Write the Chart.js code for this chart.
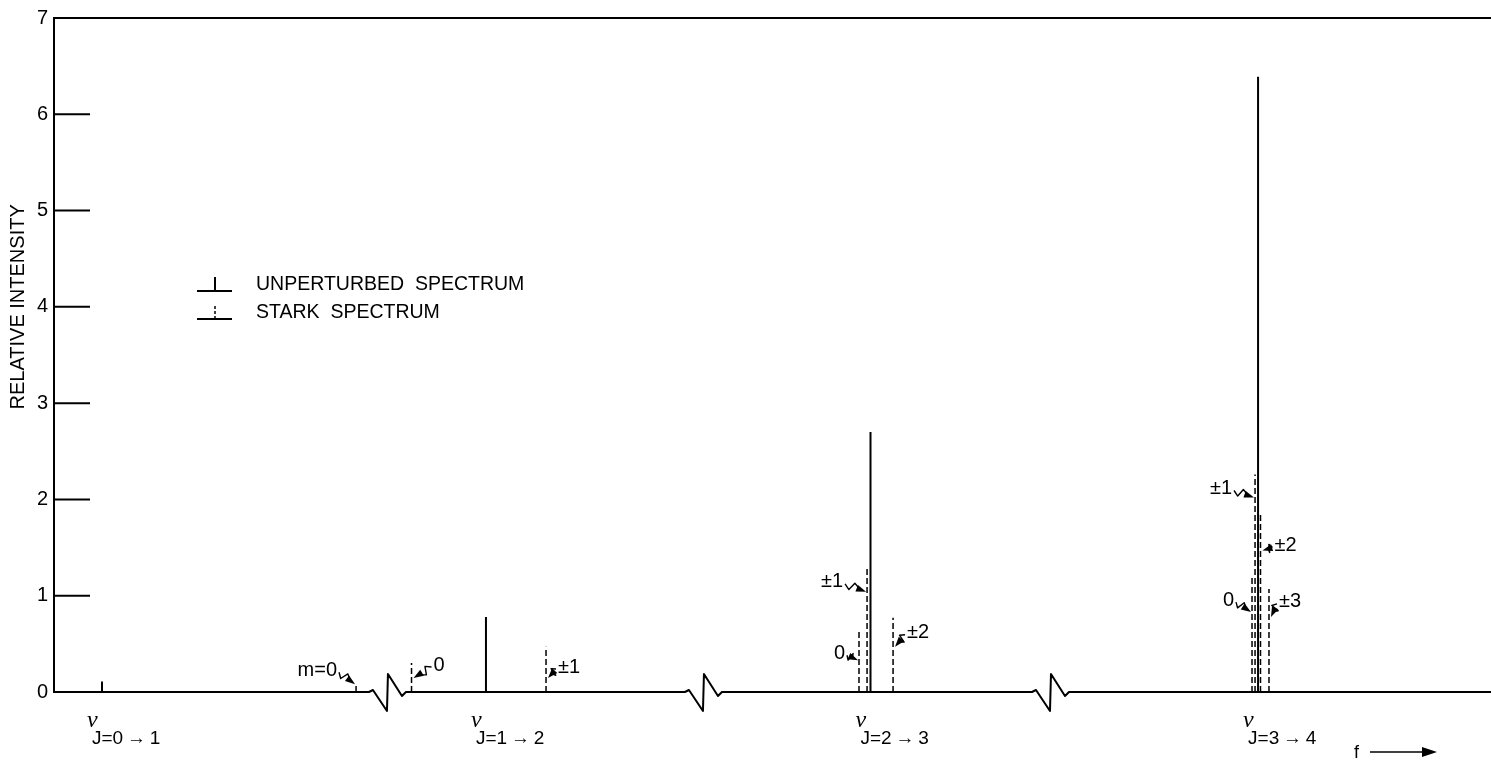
<!DOCTYPE html>
<html>
<head>
<meta charset="utf-8">
<script src="https://cdn.jsdelivr.net/npm/chart.js@4/dist/chart.umd.min.js"></script>
<style>
  html, body { margin: 0; padding: 0; background: #fff; }
  #wrap { width: 1491px; height: 762px; position: relative; }
</style>
</head>
<body>
<div id="wrap"><canvas id="spectrumChart"></canvas></div>
<script>
// frequency axis is arbitrary (0 - 100), intensity is relative
const unperturbedFreq = [3.34, 30.06, 56.82, 83.79];
const unperturbedIntensity = [0.11, 0.78, 2.70, 6.39];

const starkFreq = [21.02, 24.88, 34.24, 56.02, 56.58, 58.39, 83.37, 83.58, 83.96, 84.55];
const starkIntensity = [0.09, 0.30, 0.47, 0.65, 1.30, 0.77, 1.20, 2.26, 1.86, 1.07];
const starkLabels = ['m=0', '0', '±1', '0', '±1', '±2', '0', '±1', '±2', '±3'];
// where each little arrow hits its stark line (intensity)
const starkArrowAt = [0.08, 0.145, 0.145, 0.33, 1.04, 0.47, 0.83, 2.02, 1.47, 0.78];

const transitionLabels = ['J=0\u2009→\u20091', 'J=1\u2009→\u20092', 'J=2\u2009→\u20093', 'J=3\u2009→\u20094'];
const breakFreq = [23.17, 45.16, 69.31];
const yTicks = [0, 1, 2, 3, 4, 5, 6, 7];

// label placement relative to arrow tip (px): side, dx, dy
const notePlace = [
    ['L', -18, -14], ['R', 20, -13], ['R', 10, -11],
    ['L', -13, -7], ['L', -23, -10], ['R', 12, -14],
    ['L', -17, -12], ['L', -22, -9], ['R', 12, -5], ['R', 8, -15]
];

const FONT = '"Liberation Sans", Arial, Helvetica, sans-serif';

function sticks(freqs, vals) {
    const pts = [];
    freqs.forEach((f, i) => {
        pts.push({ x: f, y: 0 }, { x: f, y: vals[i] }, { x: f, y: null });
    });
    return pts;
}

function arrow(ctx, sx, sy, tx, ty) {
    const dx = tx - sx, dy = ty - sy;
    const len = Math.hypot(dx, dy);
    const ux = dx / len, uy = dy / len, px = -uy, py = ux;
    ctx.beginPath();
    ctx.moveTo(sx, sy);
    ctx.lineTo(sx + dx * 0.25 + px * 4, sy + dy * 0.25 + py * 4);
    ctx.lineTo(sx + dx * 0.4 - px * 4, sy + dy * 0.4 - py * 4);
    ctx.lineTo(tx - ux * 6, ty - uy * 6);
    ctx.stroke();
    ctx.beginPath();
    ctx.moveTo(tx, ty);
    ctx.lineTo(tx - ux * 10 + px * 3.5, ty - uy * 10 + py * 3.5);
    ctx.lineTo(tx - ux * 10 - px * 3.5, ty - uy * 10 - py * 3.5);
    ctx.closePath();
    ctx.fill();
}

const decor = {
    id: 'decor',
    afterDraw(chart) {
        const { ctx, chartArea: area, scales: { x, y } } = chart;
        const y0 = y.getPixelForValue(0);
        ctx.save();
        ctx.strokeStyle = '#000';
        ctx.fillStyle = '#000';
        ctx.lineWidth = 2;
        ctx.lineJoin = 'round';

        // baseline with the scale breaks
        const zig = [[-18, 0], [-14, -2], [0, 19], [1, -18], [15, 4], [19, 0]];
        ctx.beginPath();
        ctx.moveTo(area.left, y0);
        breakFreq.forEach(b => {
            const bx = x.getPixelForValue(b);
            zig.forEach(([ox, oy]) => ctx.lineTo(bx + ox, y0 + oy));
        });
        ctx.lineTo(area.right, y0);
        ctx.stroke();

        // inward tick marks
        yTicks.slice(1, -1).forEach(v => {
            const py = y.getPixelForValue(v);
            ctx.beginPath();
            ctx.moveTo(area.left, py);
            ctx.lineTo(area.left + 36, py);
            ctx.stroke();
        });

        // y title
        ctx.save();
        ctx.translate(18, y.getPixelForValue(4));
        ctx.rotate(-Math.PI / 2);
        ctx.font = '20px ' + FONT;
        ctx.textAlign = 'center';
        ctx.textBaseline = 'middle';
        ctx.fillText('RELATIVE INTENSITY', 0, 0);
        ctx.restore();

        // legend
        ctx.font = '19.5px ' + FONT;
        ctx.textAlign = 'left';
        ctx.textBaseline = 'middle';
        ctx.beginPath();
        ctx.moveTo(197, 291); ctx.lineTo(232, 291);
        ctx.moveTo(215, 277); ctx.lineTo(215, 291);
        ctx.stroke();
        ctx.fillText('UNPERTURBED  SPECTRUM', 256, 285);
        ctx.beginPath();
        ctx.moveTo(197, 319); ctx.lineTo(232, 319);
        ctx.stroke();
        ctx.lineWidth = 1.5;
        ctx.setLineDash([3, 2]);
        ctx.beginPath();
        ctx.moveTo(215, 306); ctx.lineTo(215, 319);
        ctx.stroke();
        ctx.setLineDash([]);
        ctx.fillText('STARK  SPECTRUM', 256, 313);

        // stark component labels with arrows
        ctx.font = '20px ' + FONT;
        ctx.lineWidth = 1.4;
        starkFreq.forEach((f, i) => {
            const [side, dx, dy] = notePlace[i];
            const lx = x.getPixelForValue(f);
            const tx = side === 'L' ? lx - 1 : lx + 2;
            const ty = y.getPixelForValue(starkArrowAt[i]);
            const textX = tx + dx, textY = ty + dy;
            ctx.textAlign = side === 'L' ? 'right' : 'left';
            ctx.fillText(starkLabels[i], textX, textY);
            const sx = side === 'L' ? textX + 2 : textX - 2;
            arrow(ctx, sx, textY + 2, tx, ty);
        });

        // transition labels under the axis
        ctx.textAlign = 'left';
        ctx.textBaseline = 'alphabetic';
        unperturbedFreq.forEach((f, i) => {
            const lx = x.getPixelForValue(f);
            ctx.font = 'italic 24px "Liberation Serif", "DejaVu Serif", serif';
            ctx.fillText('ν', lx - 15, 727);
            ctx.font = '19px ' + FONT;
            ctx.fillText(transitionLabels[i], lx - 10, 744);
        });

        // frequency direction
        ctx.font = '18px ' + FONT;
        ctx.fillText('f', 1354, 758);
        ctx.lineWidth = 1.5;
        ctx.beginPath();
        ctx.moveTo(1370, 752); ctx.lineTo(1428, 752);
        ctx.stroke();
        ctx.beginPath();
        ctx.moveTo(1437, 752); ctx.lineTo(1422, 747); ctx.lineTo(1422, 757);
        ctx.closePath();
        ctx.fill();
        ctx.restore();
    }
};

new Chart(document.getElementById('spectrumChart'), {
    type: 'scatter',
    data: {
        datasets: [
            {
                label: 'STARK SPECTRUM',
                data: sticks(starkFreq, starkIntensity),
                showLine: true,
                spanGaps: false,
                borderColor: '#000',
                borderWidth: 1.5,
                borderDash: [6, 3],
                pointRadius: 0
            },
            {
                label: 'UNPERTURBED SPECTRUM',
                data: sticks(unperturbedFreq, unperturbedIntensity),
                showLine: true,
                spanGaps: false,
                borderColor: '#000',
                borderWidth: 2,
                pointRadius: 0
            }
        ]
    },
    options: {
        responsive: true,
        maintainAspectRatio: false,
        animation: false,
        layout: { padding: { top: 17, bottom: 70, left: 0, right: 0 } },
        plugins: {
            legend: { display: false },
            tooltip: { enabled: false }
        },
        scales: {
            x: {
                type: 'linear',
                min: 0,
                max: 100,
                display: false
            },
            y: {
                min: 0,
                max: 7,
                afterFit(scale) { scale.width = 54; },
                afterBuildTicks(scale) { scale.ticks = yTicks.map(v => ({ value: v })); },
                ticks: {
                    color: '#000',
                    padding: 6,
                    font: { family: FONT, size: 20 }
                },
                border: { display: true, color: '#000', width: 2 },
                grid: {
                    drawTicks: false,
                    lineWidth: 2,
                    color: c => (c.tick && c.tick.value === 7 ? '#000' : 'rgba(0,0,0,0)')
                }
            }
        }
    },
    plugins: [decor]
});
</script>
</body>
</html>
